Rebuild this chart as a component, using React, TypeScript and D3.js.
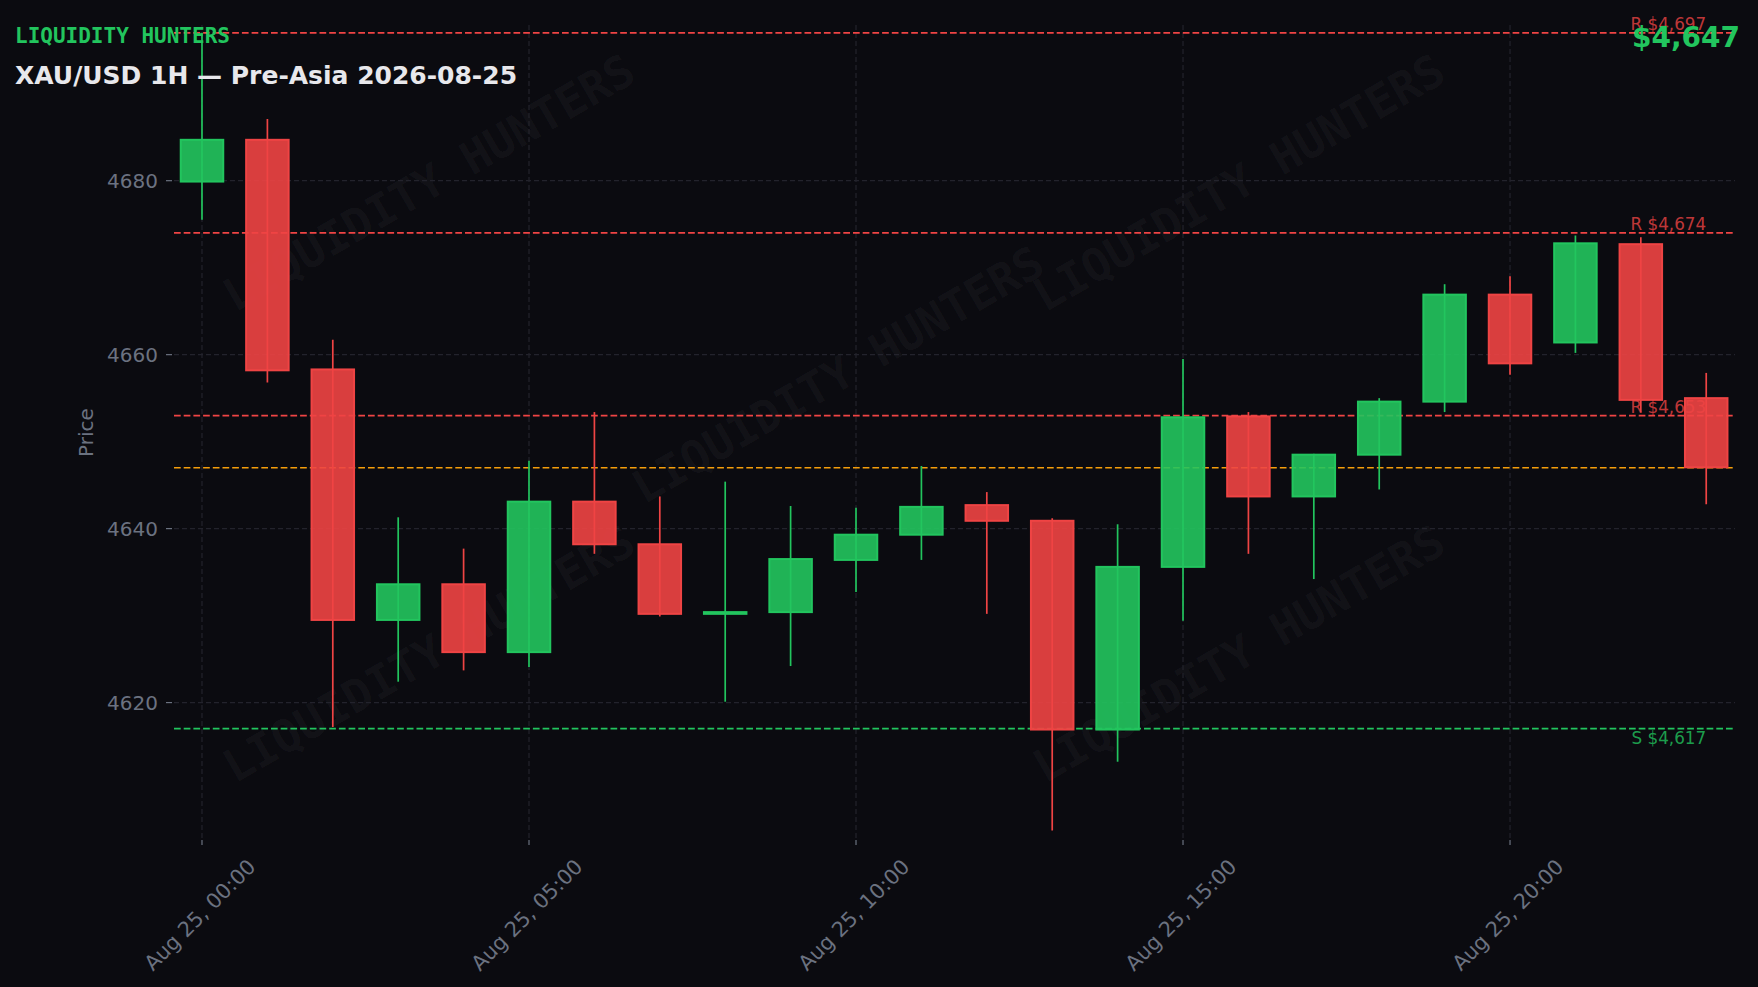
import React from "react";
import * as d3 from "d3";

// ---------- data ----------
const times = [
  "2026-08-25T00:00:00Z", "2026-08-25T01:00:00Z", "2026-08-25T02:00:00Z", "2026-08-25T03:00:00Z",
  "2026-08-25T04:00:00Z", "2026-08-25T05:00:00Z", "2026-08-25T06:00:00Z", "2026-08-25T07:00:00Z",
  "2026-08-25T08:00:00Z", "2026-08-25T09:00:00Z", "2026-08-25T10:00:00Z", "2026-08-25T11:00:00Z",
  "2026-08-25T12:00:00Z", "2026-08-25T13:00:00Z", "2026-08-25T14:00:00Z", "2026-08-25T15:00:00Z",
  "2026-08-25T16:00:00Z", "2026-08-25T17:00:00Z", "2026-08-25T18:00:00Z", "2026-08-25T19:00:00Z",
  "2026-08-25T20:00:00Z", "2026-08-25T21:00:00Z", "2026-08-25T22:00:00Z", "2026-08-25T23:00:00Z",
];
const opens = [
  4679.9, 4684.7, 4658.3, 4629.5, 4633.6, 4625.8, 4643.1, 4638.2, 4630.2, 4630.4, 4636.4, 4639.3,
  4642.7, 4640.9, 4616.9, 4635.6, 4652.9, 4643.7, 4648.5, 4654.6, 4666.9, 4661.4, 4672.7, 4655.0,
];
const highs = [
  4697.0, 4687.1, 4661.7, 4641.3, 4637.7, 4647.8, 4653.4, 4643.7, 4645.4, 4642.6, 4642.4, 4647.2,
  4644.2, 4641.2, 4640.5, 4659.5, 4653.4, 4648.6, 4655.0, 4668.1, 4669.0, 4673.7, 4673.5, 4657.9,
];
const lows = [
  4675.5, 4656.8, 4617.2, 4622.4, 4623.7, 4624.1, 4637.1, 4629.9, 4620.1, 4624.2, 4632.7, 4636.4,
  4630.2, 4605.3, 4613.2, 4629.4, 4637.1, 4634.2, 4644.5, 4653.4, 4657.7, 4660.2, 4653.4, 4642.8,
];
const closes = [
  4684.7, 4658.2, 4629.5, 4633.6, 4625.8, 4643.1, 4638.2, 4630.2, 4630.4, 4636.5, 4639.3, 4642.5,
  4640.9, 4616.9, 4635.6, 4652.8, 4643.7, 4648.5, 4654.6, 4666.9, 4659.0, 4672.8, 4654.8, 4647.05,
];
const resistanceLevels = [4697, 4674, 4653];
const supportLevels = [4617];
const currentPrice = 4647;
const yTickValues = [4620, 4640, 4660, 4680];
const brand = "LIQUIDITY HUNTERS";
const title = "XAU/USD 1H \u2014 Pre-Asia 2026-08-25";
const yAxisTitle = "Price";

// ---------- styles ----------
const W = 1758;
const H = 987;
const BG = "#0b0b10";
const GREEN = "#22c55e";
const RED = "#ef4444";
const ORANGE = "#f59e0b";
const GRID = "#23232c";
const TICK = "#6b7280";
const SANS = "'DejaVu Sans', sans-serif";
const MONO = "'DejaVu Sans Mono', monospace";

const plot = { left: 174, right: 1735, top: 25, bottom: 840 };
const HOUR = 3600 * 1000;

export default function App() {
  const dates = times.map((t) => new Date(t));
  const t0 = dates[0].getTime();
  const tN = dates[dates.length - 1].getTime();
  const x = d3
    .scaleUtc()
    .domain([new Date(t0 - 0.428 * HOUR), new Date(tN + 0.44 * HOUR)])
    .range([plot.left, plot.right]);
  const y = d3
    .scaleLinear()
    .domain([d3.min(lows)! - 1.1, d3.max(highs)! + 0.9])
    .range([plot.bottom, plot.top]);

  const xTicks = x.ticks(d3.utcHour.every(5)!);
  const fmt = d3.utcFormat("%b %d, %H:%M");
  const money = (v: number) => "$" + d3.format(",")(Math.round(v));
  const bodyW = (x(new Date(t0 + 0.65 * HOUR)) as number) - (x(new Date(t0)) as number);

  const watermarks = [
    [429, 183],
    [838, 375],
    [1239, 183],
    [429, 654],
    [1239, 654],
  ];

  const labelX = x(dates[dates.length - 1]);

  return (
    <svg
      width={W}
      height={H}
      style={{ position: "absolute", left: 0, top: 0, background: BG }}
      xmlns="http://www.w3.org/2000/svg"
    >
      <rect x={0} y={0} width={W} height={H} fill={BG} />

      {/* watermarks */}
      {watermarks.map(([cx, cy], i) => (
        <text
          key={"wm" + i}
          x={cx}
          y={cy}
          transform={`rotate(-30, ${cx}, ${cy})`}
          textAnchor="middle"
          dominantBaseline="central"
          fontFamily={MONO}
          fontWeight="bold"
          fontSize={45.5}
          fill="#ffffff"
          fillOpacity={0.045}
        >
          {brand}
        </text>
      ))}

      {/* grid */}
      {yTickValues.map((v) => (
        <line
          key={"gy" + v}
          x1={plot.left}
          x2={plot.right}
          y1={y(v)}
          y2={y(v)}
          stroke={GRID}
          strokeWidth={1.2}
          strokeDasharray="5,3"
        />
      ))}
      {xTicks.map((t) => (
        <line
          key={"gx" + t.getTime()}
          x1={x(t)}
          x2={x(t)}
          y1={plot.top}
          y2={plot.bottom}
          stroke={GRID}
          strokeWidth={1.2}
          strokeDasharray="5,3"
        />
      ))}

      {/* level lines */}
      {resistanceLevels.map((v) => (
        <line
          key={"r" + v}
          x1={plot.left}
          x2={plot.right}
          y1={y(v)}
          y2={y(v)}
          stroke={RED}
          strokeWidth={1.7}
          strokeDasharray="6.7,3"
        />
      ))}
      {supportLevels.map((v) => (
        <line
          key={"s" + v}
          x1={plot.left}
          x2={plot.right}
          y1={y(v)}
          y2={y(v)}
          stroke={GREEN}
          strokeWidth={1.7}
          strokeDasharray="6.7,3"
        />
      ))}
      <line
        x1={plot.left}
        x2={plot.right}
        y1={y(currentPrice)}
        y2={y(currentPrice)}
        stroke={ORANGE}
        strokeWidth={1.7}
        strokeDasharray="6.7,3"
      />

      {/* candles */}
      {dates.map((d, i) => {
        const up = closes[i] >= opens[i];
        const c = up ? GREEN : RED;
        const cx = x(d) as number;
        const top = y(Math.max(opens[i], closes[i]));
        const bot = y(Math.min(opens[i], closes[i]));
        return (
          <g key={"c" + i}>
            <line x1={cx} x2={cx} y1={y(highs[i])} y2={y(lows[i])} stroke={c} strokeWidth={1.7} />
            <rect
              x={cx - bodyW / 2}
              y={top}
              width={bodyW}
              height={Math.max(bot - top, 0.8)}
              fill={c}
              fillOpacity={0.9}
              stroke={c}
              strokeWidth={2}
            />
          </g>
        );
      })}

      {/* level labels */}
      {resistanceLevels.map((v) => (
        <text
          key={"rl" + v}
          x={labelX}
          y={y(v) - 3}
          textAnchor="end"
          fontFamily={SANS}
          fontSize={16.8}
          fill={RED}
          fillOpacity={0.8}
        >
          {"R " + money(v)}
        </text>
      ))}
      {supportLevels.map((v) => (
        <text
          key={"sl" + v}
          x={labelX}
          y={y(v) + 15}
          textAnchor="end"
          fontFamily={SANS}
          fontSize={16.8}
          fill={GREEN}
          fillOpacity={0.8}
        >
          {"S " + money(v)}
        </text>
      ))}

      {/* y axis */}
      {yTickValues.map((v) => (
        <g key={"yt" + v}>
          <line x1={166} x2={172} y1={y(v)} y2={y(v)} stroke={TICK} strokeWidth={1.2} />
          <text
            x={158}
            y={y(v)}
            textAnchor="end"
            dominantBaseline="central"
            fontFamily={SANS}
            fontSize={20}
            fill={TICK}
          >
            {d3.format("d")(v)}
          </text>
        </g>
      ))}
      <text
        x={86}
        y={(plot.top + plot.bottom) / 2}
        transform={`rotate(-90, 86, ${(plot.top + plot.bottom) / 2})`}
        textAnchor="middle"
        dominantBaseline="central"
        fontFamily={SANS}
        fontSize={20}
        fill={TICK}
      >
        {yAxisTitle}
      </text>

      {/* x axis */}
      {xTicks.map((t) => {
        const tx = x(t) as number;
        const lx = tx - 2;
        const ly = 915;
        return (
          <g key={"xt" + t.getTime()}>
            <line x1={tx} x2={tx} y1={plot.bottom} y2={plot.bottom + 5} stroke={TICK} strokeWidth={1.2} />
            <text
              x={lx}
              y={ly}
              transform={`rotate(-45, ${lx}, ${ly})`}
              textAnchor="middle"
              dominantBaseline="central"
              fontFamily={SANS}
              fontSize={20.8}
              fill={TICK}
            >
              {fmt(t)}
            </text>
          </g>
        );
      })}

      {/* headings */}
      <text x={15} y={43} fontFamily={MONO} fontWeight="bold" fontSize={21} fill={GREEN}>
        {brand}
      </text>
      <text x={15} y={83.5} fontFamily={SANS} fontWeight="bold" fontSize={25} fill="#e8e8ec">
        {title}
      </text>
      <text
        x={1740}
        y={47}
        textAnchor="end"
        fontFamily={SANS}
        fontWeight="bold"
        fontSize={28}
        fill={GREEN}
      >
        {money(currentPrice)}
      </text>
    </svg>
  );
}
